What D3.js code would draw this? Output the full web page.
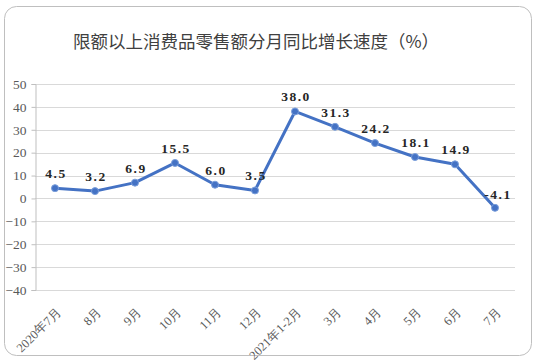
<!DOCTYPE html>
<html lang="zh">
<head>
    <meta charset="UTF-8">
    <title>Chart</title>
    <style>
        body { margin: 0; background: #fff; }
        .grid line { stroke: #d9d9d9; }
        .axis text { fill: #595959; font-family: 'Liberation Serif', 'Times New Roman', serif; font-size: 13.5px; }
        .lbl { font-family: 'Liberation Serif', 'Times New Roman', serif; font-weight: bold; font-size: 13.5px; fill: #262626; }
    </style>
</head>
<body>
<svg id="chart"></svg>
<script src="https://d3js.org/d3.v7.min.js"></script>
<script>
    var months = ['2020年7月', '8月', '9月', '10月', '11月', '12月', '2021年1-2月', '3月', '4月', '5月', '6月', '7月']
    var growth = [4.5, 3.2, 6.9, 15.5, 6.0, 3.5, 38.0, 31.3, 24.2, 18.1, 14.9, -4.1]
    var yTicks = [50, 40, 30, 20, 10, 0, -10, -20, -30, -40]

    var svgWidth = 536, svgHeight = 363
    var svg = d3.select('#chart')
        .attr('width', svgWidth)
        .attr('height', svgHeight)

    // outer frame
    svg.append('rect')
        .attr('x', 4.5).attr('y', 6.5)
        .attr('width', 527).attr('height', 349)
        .attr('rx', 12)
        .attr('fill', '#fff')
        .attr('stroke', '#bfbfbf')

    svg.append('text')
        .attr('x', 256).attr('y', 48)
        .attr('text-anchor', 'middle')
        .style('font-family', "'Noto Sans CJK SC', sans-serif")
        .style('font-size', '17.5px')
        .attr('fill', '#404040')
        .text('限额以上消费品零售额分月同比增长速度（%）')

    var plotLeft = 35, plotRight = 515, plotTop = 84, plotBottom = 290

    var x = d3.scaleBand().domain(months).range([plotLeft, plotRight])
    var y = d3.scaleLinear().domain([-40, 50]).range([plotBottom, plotTop])

    svg.append('g').attr('class', 'grid')
        .selectAll('line')
        .data(yTicks)
        .enter()
        .append('line')
        .attr('x1', plotLeft).attr('x2', plotRight)
        .attr('y1', function (d) { return Math.round(y(d)) + 0.5 })
        .attr('y2', function (d) { return Math.round(y(d)) + 0.5 })

    var yAxis = svg.append('g')
        .attr('class', 'axis')
        .attr('transform', 'translate(' + (plotLeft + 0.5) + ',0)')
        .call(d3.axisLeft(y).tickValues(yTicks).tickSize(4).tickPadding(5)
            .tickFormat(function (d) { return d < 0 ? '−' + Math.abs(d) : d }))
    yAxis.selectAll('line, path').attr('stroke', '#bfbfbf')

    var xAxis = svg.append('g')
        .attr('class', 'axis')
        .attr('transform', 'translate(0,' + (Math.round(y(-40)) + 0.5) + ')')
        .call(d3.axisBottom(x).tickSize(0))
    xAxis.select('path').remove()
    xAxis.selectAll('text')
        .style('font-size', '12.5px')
        .attr('x', 0).attr('y', 0)
        .attr('dy', '0.35em')
        .attr('text-anchor', 'end')
        .attr('transform', 'translate(4,19) rotate(-45)')

    var cx = function (d, i) { return x(months[i]) + x.bandwidth() / 2 }

    var line = d3.line()
        .x(cx)
        .y(function (d) { return y(d) })

    svg.append('path')
        .datum(growth)
        .attr('d', line)
        .attr('fill', 'none')
        .attr('stroke', '#4472c4')
        .attr('stroke-width', 3)
        .attr('stroke-linejoin', 'round')

    svg.selectAll('circle')
        .data(growth)
        .enter()
        .append('circle')
        .attr('cx', cx)
        .attr('cy', function (d) { return y(d) })
        .attr('r', 3.5)
        .attr('fill', '#4472c4')
        .attr('stroke', '#7a9edb')
        .attr('stroke-width', 1)

    svg.selectAll('.lbl')
        .data(growth)
        .enter()
        .append('text')
        .attr('class', 'lbl')
        .attr('x', function (d, i) { return cx(d, i) + (d < 0 ? 3 : 1) })
        .attr('y', function (d) { return y(d) - (d < 0 ? 9 : 10) })
        .attr('text-anchor', 'middle')
        .attr('letter-spacing', 1.5)
        .text(function (d) { return d.toFixed(1) })
</script>
</body>
</html>
